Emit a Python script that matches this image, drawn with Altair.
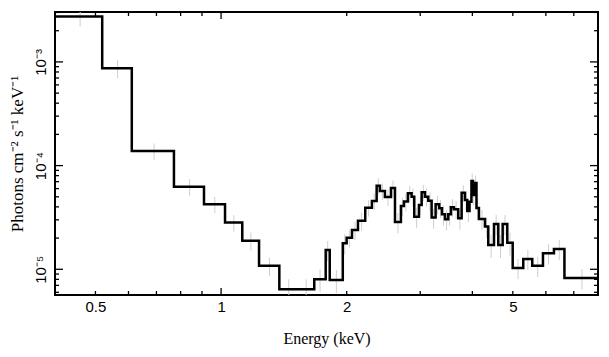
import altair as alt
import pandas as pd

# Bin edges (keV) and flux (photons cm^-2 s^-1 keV^-1)
edges = [0.400, 0.519, 0.611, 0.771, 0.910, 1.022, 1.124, 1.233, 1.379, 1.526,
         1.672, 1.781, 1.821, 1.957, 1.999, 2.059, 2.128, 2.215, 2.298, 2.359,
         2.402, 2.469, 2.553, 2.610, 2.697, 2.742, 2.803, 2.861, 2.903, 2.979,
         3.024, 3.079, 3.136, 3.195, 3.266, 3.332, 3.382, 3.439, 3.502, 3.554,
         3.614, 3.700, 3.770, 3.840, 3.889, 3.937, 3.980, 4.013, 4.047, 4.092,
         4.148, 4.288, 4.367, 4.507, 4.615, 4.728, 4.850, 4.997, 5.297, 5.567,
         5.905, 6.274, 6.648, 8.000]
flux = [2.74e-3, 8.70e-4, 1.385e-4, 6.27e-5, 4.24e-5, 2.82e-5, 1.89e-5, 1.08e-5, 6.41e-6, 6.41e-6,
        8.01e-6, 1.535e-5, 7.88e-6, 1.78e-5, 2.02e-5, 2.39e-5, 2.94e-5, 3.93e-5, 4.56e-5, 6.41e-5,
        5.69e-5, 4.98e-5, 6.09e-5, 2.86e-5, 4.08e-5, 4.51e-5, 5.41e-5, 5.02e-5, 3.22e-5, 4.17e-5,
        5.53e-5, 5.02e-5, 4.59e-5, 3.15e-5, 4.24e-5, 3.88e-5, 3.39e-5, 3.04e-5, 3.39e-5, 3.96e-5,
        3.79e-5, 3.10e-5, 5.48e-5, 4.66e-5, 3.65e-5, 4.49e-5, 7.11e-5, 5.21e-5, 6.80e-5, 3.90e-5,
        3.06e-5, 2.58e-5, 1.715e-5, 2.735e-5, 1.715e-5, 2.735e-5, 1.805e-5, 1.03e-5, 1.26e-5, 1.08e-5,
        1.43e-5, 1.57e-5, 8.24e-6]
# relative 1-sigma errors per bin (estimated from the grey bars)
rel_err = [0.20, 0.20, 0.18, 0.18, 0.18, 0.18, 0.20, 0.20, 0.25, 0.25,
           0.25, 0.22, 0.25, 0.22, 0.20, 0.20, 0.20, 0.18, 0.18, 0.18,
           0.18, 0.18, 0.18, 0.22, 0.20, 0.20, 0.18, 0.20, 0.22, 0.20,
           0.18, 0.20, 0.20, 0.22, 0.20, 0.20, 0.22, 0.22, 0.22, 0.20,
           0.20, 0.22, 0.18, 0.20, 0.22, 0.20, 0.18, 0.20, 0.18, 0.22,
           0.22, 0.22, 0.25, 0.22, 0.25, 0.22, 0.25, 0.22, 0.22, 0.22,
           0.22, 0.22, 0.22]

x_label_ticks = [0.5, 1, 2, 5]
x_minor_ticks = [0.5, 0.6, 0.7, 0.8, 0.9, 2, 3, 4, 5, 6, 7]
x_major_ticks = [1]
y_label_ticks = [1e-5, 1e-4, 1e-3]
y_tick_labels = ["10⁻⁵", "10⁻⁴", "10⁻³"]
y_minor_ticks = [6e-6, 7e-6, 8e-6, 9e-6,
                 2e-5, 3e-5, 4e-5, 5e-5, 6e-5, 7e-5, 8e-5, 9e-5,
                 2e-4, 3e-4, 4e-4, 5e-4, 6e-4, 7e-4, 8e-4, 9e-4,
                 2e-3, 3e-3]
y_major_ticks = [1e-5, 1e-4, 1e-3]

W, H = 543, 283

step_df = pd.DataFrame({"E": edges, "F": flux + [flux[-1]]})
err_df = pd.DataFrame({
    "Ec": [(edges[i] + edges[i + 1]) / 2 for i in range(len(flux))],
    "lo": [f * (1 - r) for f, r in zip(flux, rel_err)],
    "hi": [f * (1 + r) for f, r in zip(flux, rel_err)],
})

xscale = alt.Scale(type="log", domain=[0.4, 8.0], nice=False)
yscale = alt.Scale(type="log", domain=[5.65e-6, 3.03e-3], nice=False)

label_expr = " : ".join(
    [f"abs(datum.value - {v}) < {v}*0.01 ? '{t}'" for v, t in zip(y_label_ticks, y_tick_labels)]
) + " : ''"

xaxis = alt.Axis(values=x_label_ticks, format="~g", ticks=False, tickSize=0, domain=False,
                 grid=False, labelFont="Liberation Sans", labelFontSize=15, labelColor="black",
                 labelPadding=4, title="Energy (keV)", titleFont="Liberation Serif",
                 titleFontSize=16, titleFontWeight="normal", titleColor="black",
                 titleY=48, titleBaseline="alphabetic")
yaxis = alt.Axis(values=y_label_ticks, labelExpr=label_expr, ticks=False, tickSize=0,
                 domain=False, grid=False, labelFont="Liberation Sans", labelFontSize=15,
                 labelColor="black", labelAngle=270, labelAlign="center",
                 labelBaseline="bottom", labelPadding=7,
                 title="Photons cm⁻² s⁻¹ keV⁻¹", titleFont="Liberation Serif",
                 titleFontSize=17, titleFontWeight="normal", titleColor="black",
                 titleAngle=270, titleX=-38, titleY=H / 2, titleAlign="center",
                 titleBaseline="middle")

errs = alt.Chart(err_df).mark_rule(color="#cfcfcf", strokeWidth=1, clip=True).encode(
    x=alt.X("Ec:Q", scale=xscale, axis=xaxis),
    y=alt.Y("lo:Q", scale=yscale, axis=yaxis),
    y2="hi:Q",
)

steps = alt.Chart(step_df).mark_line(interpolate="step-after", color="black",
                                     strokeWidth=2.5, clip=True).encode(
    x=alt.X("E:Q", scale=xscale, axis=xaxis),
    y=alt.Y("F:Q", scale=yscale, axis=yaxis),
)

def xticks(vals, length):
    df = pd.DataFrame({"v": vals})
    base = alt.Chart(df).mark_rule(color="black", strokeWidth=1.3)
    bot = base.encode(x=alt.X("v:Q", scale=xscale, axis=xaxis),
                      y=alt.value(H), y2=alt.value(H - length))
    top = base.encode(x=alt.X("v:Q", scale=xscale, axis=xaxis),
                      y=alt.value(0), y2=alt.value(length))
    return [bot, top]

def yticks(vals, length):
    df = pd.DataFrame({"v": vals})
    base = alt.Chart(df).mark_rule(color="black", strokeWidth=1.3)
    left = base.encode(y=alt.Y("v:Q", scale=yscale, axis=yaxis),
                       x=alt.value(0), x2=alt.value(length))
    right = base.encode(y=alt.Y("v:Q", scale=yscale, axis=yaxis),
                        x=alt.value(W), x2=alt.value(W - length))
    return [left, right]

layers = [errs, steps] + xticks(x_minor_ticks, 4) + xticks(x_major_ticks, 7) \
    + yticks(y_minor_ticks, 4) + yticks(y_major_ticks, 8)

chart = alt.layer(*layers).properties(
    width=W, height=H,
    autosize=alt.AutoSizeParams(type="none"),
    padding={"left": 47, "top": 4, "right": 3, "bottom": 54},
    background="white",
).configure_view(stroke="black", strokeWidth=2)

chart.save("out.html", embed_options={"renderer": "svg", "actions": False})
